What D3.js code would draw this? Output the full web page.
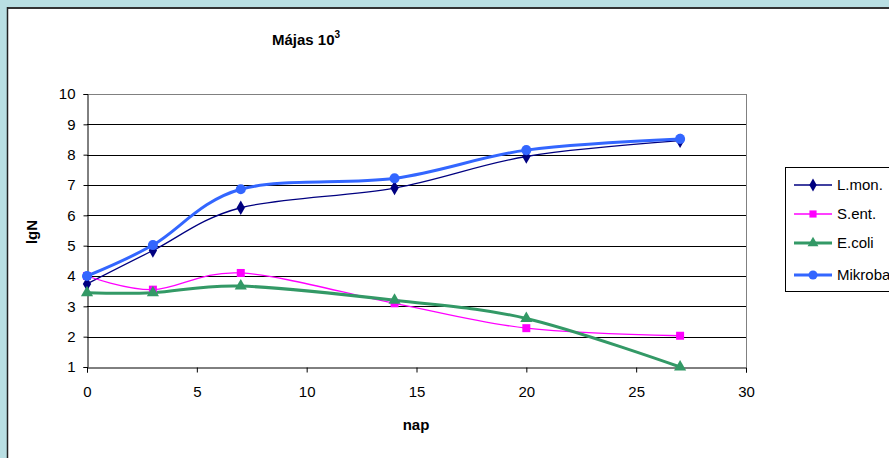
<!DOCTYPE html>
<html><head><meta charset="utf-8">
<script src="https://cdn.jsdelivr.net/npm/d3@7"></script>
<style>
html,body{margin:0;padding:0;background:#b9dfe3;overflow:hidden;}
svg{display:block;font-family:Arial,"Liberation Sans",sans-serif;}
</style></head><body>
<svg id="c" width="889" height="458"></svg>
<script>
const days = [0, 3, 7, 14, 20, 27];
const lmon = [3.74, 4.84, 6.25, 6.9, 7.94, 8.46];
const sent = [4.0, 3.55, 4.1, 3.1, 2.28, 2.03];
const ecoli = [3.45, 3.45, 3.67, 3.2, 2.6, 1.0];
const mikroba = [4.0, 5.02, 6.86, 7.22, 8.15, 8.52];
const xTicks = [0, 5, 10, 15, 20, 25, 30];
const yTicks = [1, 2, 3, 4, 5, 6, 7, 8, 9, 10];
const seriesNames = ["L.mon.", "S.ent.", "E.coli", "Mikroba"];

const series = [
  {name: seriesNames[0], vals: lmon, color: "#000080", width: 1.3, sym: d3.symbolDiamond, size: 60},
  {name: seriesNames[1], vals: sent, color: "#ff00ff", width: 1.3, sym: d3.symbolSquare, size: 64},
  {name: seriesNames[2], vals: ecoli, color: "#339966", width: 3, sym: d3.symbolTriangle, size: 64},
  {name: seriesNames[3], vals: mikroba, color: "#3366ff", width: 3, sym: d3.symbolCircle, size: 80}
];

const svg = d3.select("#c");
// chart area (white) with frame
svg.append("rect").attr("x", 7).attr("y", 8).attr("width", 900).attr("height", 470).attr("fill", "#fff");
svg.append("line").attr("x1", 7).attr("x2", 889).attr("y1", 8).attr("y2", 8).attr("stroke", "#333").attr("stroke-width", 2);
svg.append("line").attr("x1", 7.5).attr("x2", 7.5).attr("y1", 7).attr("y2", 458).attr("stroke", "#222").attr("stroke-width", 1.5);

const x = d3.scaleLinear().domain([0, 30]).range([87, 746]);
const y = d3.scaleLinear().domain([1, 10]).range([367, 94]);

// gridlines
const g = svg.append("g");
g.selectAll("line.grid").data(yTicks.slice(1)).join("line")
  .attr("x1", x(0)).attr("x2", x(30))
  .attr("y1", d => Math.round(y(d)) + 0.5).attr("y2", d => Math.round(y(d)) + 0.5)
  .attr("stroke", d => d === 10 ? "#808080" : "#000").attr("stroke-width", 1);
// right border
svg.append("line").attr("x1", Math.round(x(30)) + 0.5).attr("x2", Math.round(x(30)) + 0.5)
  .attr("y1", y(10)).attr("y2", y(1)).attr("stroke", "#808080");

// axes
const yAxis = d3.axisLeft(y).tickValues(yTicks).tickSize(4).tickPadding(8);
const ya = svg.append("g").attr("transform", `translate(${Math.round(x(0)) + 0.5},0)`).call(yAxis);
const xAxis = d3.axisBottom(x).tickValues(xTicks).tickSize(5).tickPadding(14);
const xa = svg.append("g").attr("transform", `translate(0,${Math.round(y(1)) + 0.5})`).call(xAxis);
[ya, xa].forEach(a => {
  a.select(".domain").attr("stroke", "#000");
  a.selectAll(".tick line").attr("stroke", "#000");
  a.selectAll("text").attr("font-size", 15).attr("fill", "#000").attr("font-family", "Arial, 'Liberation Sans', sans-serif");
});

// lines
const line = d3.line().curve(d3.curveCardinal.tension(0)).x((d, i) => x(days[i])).y(d => y(d));
series.forEach(s => {
  svg.append("path").datum(s.vals).attr("d", line).attr("fill", "none")
    .attr("stroke", s.color).attr("stroke-width", s.width).attr("stroke-linejoin", "round");
});
series.forEach(s => {
  svg.append("g").selectAll("path").data(s.vals).join("path")
    .attr("d", d3.symbol().type(s.sym).size(s.size))
    .attr("transform", (d, i) => `translate(${x(days[i])},${y(d)})`)
    .attr("fill", s.color);
});

// title
const t = svg.append("text").attr("x", 272).attr("y", 45).attr("font-size", 15).attr("font-weight", "bold").attr("fill", "#000");
t.append("tspan").text("Májas 10");
t.append("tspan").attr("dy", -7).attr("font-size", 10).text("3");

// axis titles
svg.append("text").attr("transform", "translate(37,232) rotate(-90)").attr("text-anchor", "middle")
  .attr("font-size", 15).attr("font-weight", "bold").text("lgN");
svg.append("text").attr("x", 416).attr("y", 430).attr("text-anchor", "middle")
  .attr("font-size", 15).attr("font-weight", "bold").text("nap");

// legend
const lg = svg.append("g").attr("transform", "translate(785,167)");
lg.append("rect").attr("x", 0.5).attr("y", 0.5).attr("width", 120).attr("height", 124).attr("fill", "#fff").attr("stroke", "#000");
const ly = [18, 47, 76, 108];
series.forEach((s, i) => {
  lg.append("line").attr("x1", 9).attr("x2", 47).attr("y1", ly[i]).attr("y2", ly[i])
    .attr("stroke", s.color).attr("stroke-width", s.width);
  lg.append("path").attr("d", d3.symbol().type(s.sym).size(s.size * 0.8)).attr("transform", `translate(28,${ly[i]})`).attr("fill", s.color);
  lg.append("text").attr("x", 52).attr("y", ly[i] + 5).attr("font-size", 15).text(s.name);
});
</script>
</body></html>
